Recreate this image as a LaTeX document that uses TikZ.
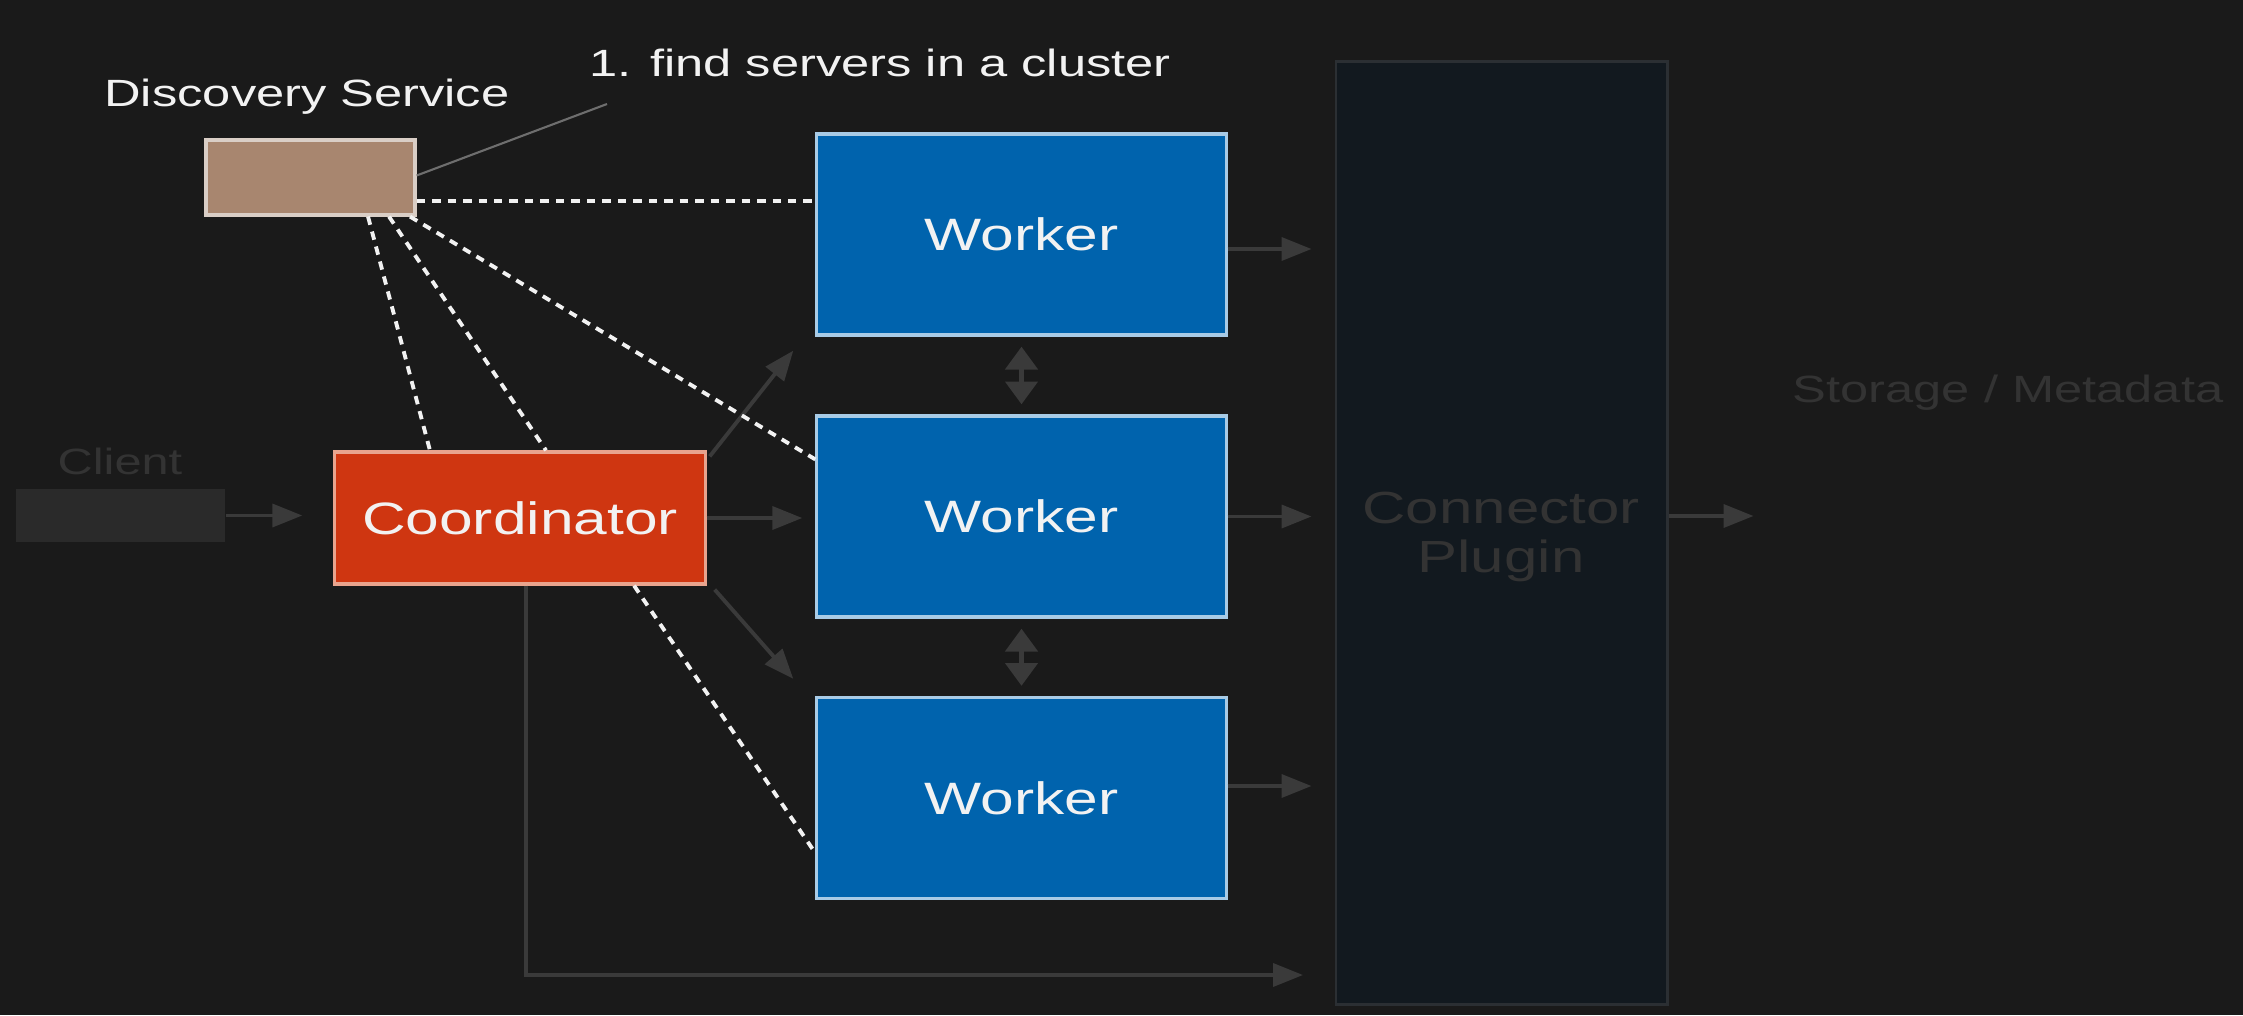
\documentclass[tikz,border=0pt]{standalone}
\usepackage{fontspec}
\setmainfont{Liberation Sans}[FakeStretch=1.333]
\usetikzlibrary{arrows.meta,calc}
\definecolor{bg}{HTML}{1A1A1A}
\definecolor{workerfill}{HTML}{0063AD}
\definecolor{workerline}{HTML}{A8CBE6}
\definecolor{coordfill}{HTML}{CF3611}
\definecolor{coordline}{HTML}{E9A48E}
\definecolor{discfill}{HTML}{A8866F}
\definecolor{discline}{HTML}{D9CEC6}
\definecolor{clientfill}{HTML}{2A2A2A}
\definecolor{faint}{HTML}{333333}
\definecolor{arrowgray}{HTML}{3A3A3A}
\definecolor{connfill}{HTML}{12191F}
\definecolor{connline}{HTML}{2B2F33}
\definecolor{calloutgray}{HTML}{6E6E6E}
\definecolor{lighttext}{HTML}{F2F2F2}
\begin{document}
\begin{tikzpicture}[x=0.01cm,y=-0.01cm,
  boxbase/.style={draw, line width=0.9pt, inner sep=0pt, text=lighttext,
    font=\fontsize{12.9}{15}\selectfont},
  worker/.style={boxbase, fill=workerfill, draw=workerline,
    minimum width=4.09cm, minimum height=2.01cm},
  coordbox/.style={boxbase, fill=coordfill, draw=coordline,
    minimum width=3.70cm, minimum height=1.32cm},
  discbox/.style={boxbase, fill=discfill, draw=discline,
    minimum width=2.09cm, minimum height=0.75cm},
  clientbox/.style={inner sep=0pt, fill=clientfill,
    minimum width=2.09cm, minimum height=0.53cm},
  connbox/.style={draw=connline, line width=0.8pt, fill=connfill, inner sep=0pt,
    minimum width=3.31cm, minimum height=9.42cm},
  lbl/.style={inner sep=0pt, text=lighttext, font=\fontsize{10.8}{13}\selectfont},
  faintlbl/.style={inner sep=0pt, text=faint, font=\fontsize{10.8}{13}\selectfont},
  garrow/.style={draw=arrowgray, line width=1.1pt,
    -{Triangle[length=8.5pt,width=6.5pt]}},
  dblarrow/.style={draw=arrowgray, line width=1.6pt,
    {Triangle[length=6.5pt,width=9pt]}-{Triangle[length=6.5pt,width=9pt]},
    shorten <=0.1cm, shorten >=0.1cm},
  dotline/.style={draw=lighttext, line width=1.1pt, dash pattern=on 2.4pt off 2pt},
  callout/.style={draw=calloutgray, line width=0.6pt}
]
% background
\fill[bg] (0,0) rectangle (2243,1015);
\useasboundingbox (0,0) rectangle (2243,1015);

% connector plugin box
\node[connbox] (conn) at (1501.5,533) {};
\node[inner sep=0pt, text=faint, align=center, font=\fontsize{12.8}{13.9}\selectfont]
  (connlbl) at (1501,537) {Connector\\Plugin};

% labels
\node[lbl] (disclbl) at (307,97) {Discovery Service};
\node[lbl] (findlbl) at (880,63) {1. find servers in a cluster};
\node[faintlbl, font=\fontsize{10.4}{12}\selectfont] (clientlbl) at (120,461) {Client};
\node[faintlbl] (storelbl) at (2008,393) {Storage / Metadata};

% boxes
\node[discbox] (disc) at (310.5,177.5) {};
\node[clientbox] (client) at (120.5,515.5) {};
\node[coordbox] (coord) at (520,518) {Coordinator};
\node[worker] (w1) at (1021.5,234.5) {Worker};
\node[worker] (w2) at (1021.5,516.5) {Worker};
\node[worker] (w3) at (1021.5,798) {Worker};

% callout
\coordinate (callend) at (607,104);
\draw[callout] ($(disc.east)+(0,-2)$) -- (callend);

% gray arrows
\draw[garrow, shorten >=0.31cm] (client.east) -- (client.east -| coord.west);
\draw[garrow, shorten >=0.13cm] (coord.east) -- (coord.east -| w2.west);
\draw[garrow] ($(coord.north east)+(3,6)$) -- ($(w1.south west)+(-22,14)$);
\draw[garrow] ($(coord.south east)+(8,4)$) -- ($(w3.north west)+(-22,-17)$);

\coordinate (o1) at ($(w1.east)+(0,14.5)$);
\coordinate (o2) at (w2.east);
\coordinate (o3) at ($(w3.east)+(0,-12)$);
\draw[garrow, shorten >=0.23cm] (o1) -- (o1 -| conn.west);
\draw[garrow, shorten >=0.23cm] (o2) -- (o2 -| conn.west);
\draw[garrow, shorten >=0.23cm] (o3) -- (o3 -| conn.west);

\coordinate (cs) at ($(conn.east)+(0,-17)$);
\coordinate (stin) at ($(cs)+(85,0)$);
\draw[garrow] (cs) -- (stin);

\coordinate (cb) at ($(coord.south)+(6,0)$);
\coordinate (bt) at (1303,975);
\draw[garrow] (cb) |- (bt);

\draw[dblarrow] (w1.south) -- (w2.north);
\draw[dblarrow] (w2.south) -- (w3.north);

% dotted discovery lines
\coordinate (ds) at ($(disc.south east)+(0,-16)$);
\draw[dotline] (ds) -- (ds -| w1.west);
\draw[dotline] ([xshift=0.575cm]disc.south) -- ([xshift=-0.9cm]coord.north);
\draw[dotline] ([xshift=0.785cm]disc.south) -- ([xshift=0.26cm]coord.north);
\draw[dotline] ([xshift=0.995cm]disc.south) -- ([yshift=-0.45cm]w2.north west);
\draw[dotline] ([xshift=1.14cm]coord.south) -- ([yshift=-0.55cm]w3.west);
\end{tikzpicture}
\end{document}
